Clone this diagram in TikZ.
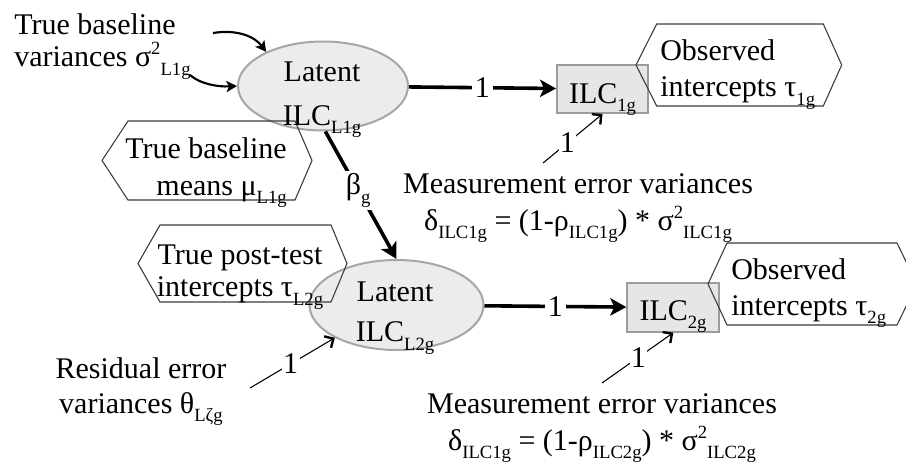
\documentclass[tikz,border=0pt]{standalone}
\usepackage{fontspec}
\setmainfont{Liberation Serif}
\usetikzlibrary{arrows.meta,shapes.geometric,calc}

% lowered subscript and raised superscript in text font
\newcommand\lo[1]{\raisebox{-6.5pt}{\fontsize{14}{14}\selectfont #1}}
\newcommand\hi[1]{\raisebox{9pt}{\fontsize{14}{14}\selectfont #1}}
% hexagon outline: centre x, centre y, half flat width, half height, left tip, right tip
\newcommand\hexpath[6]{\draw[hexline] (#1-#3,#2-#4) -- (#1+#3,#2-#4) -- (#1+#3+#6,#2) -- (#1+#3,#2+#4) -- (#1-#3,#2+#4) -- (#1-#3-#5,#2) -- cycle;}

\definecolor{latentfill}{HTML}{ECECEC}
\definecolor{latentedge}{HTML}{A6A6A6}
\definecolor{boxfill}{HTML}{E6E6E6}
\definecolor{boxedge}{HTML}{9C9C9C}
\definecolor{hexcol}{HTML}{3A3A3A}

\begin{document}
\begin{tikzpicture}[x=0.75pt,y=-0.75pt,
  font=\fontsize{22.5}{27}\selectfont,
  latent/.style={ellipse, draw=latentedge, fill=latentfill, line width=1.5pt, inner sep=0pt},
  obsbox/.style={rectangle, draw=boxedge, fill=boxfill, line width=1.5pt, inner sep=0pt},
  txt/.style={inner sep=0pt, align=center},
  hexline/.style={draw=hexcol, line width=0.8pt, line join=miter},
  pathar/.style={line width=2.7pt, -{Stealth[length=12pt,width=13pt,inset=3pt]}},
  curvear/.style={line width=1.6pt, -{Stealth[length=8pt,width=8.5pt,inset=2pt]}},
  errar/.style={line width=0.8pt, -{Straight Barb[length=5pt,width=10pt,line width=1.8pt]}},
  one/.style={fill=white, inner sep=2pt}]

\useasboundingbox (0,0) rectangle (906,464);

% latent variables and observed indicators
\node[latent, minimum width=127.5pt, minimum height=66.75pt] (e1) at (323,86) {};
\node[latent, minimum width=130.5pt, minimum height=67.5pt] (e2) at (396.5,305) {};
\node[obsbox, minimum width=68.25pt, minimum height=36pt] (b1) at (602.5,89) {};
\node[obsbox, minimum width=69pt, minimum height=36.3pt] (b2) at (673.3,307.5) {};

% parameter hexagons
\hexpath{740}{65}{83.3}{41}{20.7}{18.4}
\hexpath{211.5}{160.5}{83.5}{39.5}{26}{17}
\hexpath{245.5}{263.5}{85.5}{38.5}{22}{16}
\hexpath{812}{284}{85}{41}{19}{20}

% texts (anchored on the baseline of their last line)
\node[txt, anchor=base west, align=left, font=\fontsize{22.5}{23.8}\selectfont] (tbv) at (14,66.7)
  {True baseline\\variances σ\hi{2}\lo{L1g}};
\node[txt, anchor=base, font=\fontsize{22.5}{32.5}\selectfont] (e1t) at (322,125)
  {Latent\\ILC\lo{L1g}};
\node[txt, anchor=base] (b1t) at (602.5,103) {ILC\lo{1g}};
\node[txt, anchor=base west, align=left] (obs1) at (660,96.7)
  {Observed\\intercepts τ\lo{1g}};
\node[txt, anchor=base, font=\fontsize{22.5}{27.5}\selectfont] (mev1) at (578,230)
  {Measurement error variances\\δ\lo{ILC1g} = (1-ρ\lo{ILC1g}) * σ\hi{2}\lo{ILC1g}};
\node[txt, anchor=base east, align=right, font=\fontsize{22.5}{27.5}\selectfont] (tbm) at (287,195)
  {True baseline\\means μ\lo{L1g}};
\node[txt, anchor=base, font=\fontsize{22.5}{23.8}\selectfont] (tpi) at (240,296.7)
  {True post-test\\intercepts τ\lo{L2g}};
\node[txt, anchor=base, font=\fontsize{22.5}{30}\selectfont] (e2t) at (395,341.7)
  {Latent\\ILC\lo{L2g}};
\node[txt, anchor=base] (b2t) at (673,320) {ILC\lo{2g}};
\node[txt, anchor=base west, align=left] (obs2) at (731,315)
  {Observed\\intercepts τ\lo{2g}};
\node[txt, anchor=base, font=\fontsize{22.5}{27.5}\selectfont] (mev2) at (602,450)
  {Measurement error variances\\δ\lo{ILC1g} = (1-ρ\lo{ILC2g}) * σ\hi{2}\lo{ILC2g}};
\node[txt, anchor=base, font=\fontsize{22.5}{26.25}\selectfont] (rev) at (141,413.3)
  {Residual error\\variances θ\lo{Lζg}};

% structural paths
\draw[pathar] (e1) -- node[one]{1} (b1);
\draw[pathar] (e2) -- node[one]{1} (b2);
\draw[pathar] (e1.-87) -- node[one, pos=0.46]{β\lo{g}} (e2.north);

% variance arrows into the baseline latent
\coordinate (v1) at (213,33);
\coordinate (v2) at (190,75);
\draw[curvear] (v1) .. controls (238,29) and (255,37) .. (e1.149);
\draw[curvear] (v2) .. controls (200,84) and (218,87) .. (e1.west);

% error arrows
\coordinate (m1) at (543,163);
\coordinate (m2) at (602,383);
\coordinate (r1) at (250,388);
\draw[errar] (m1) -- node[one, inner sep=1pt, pos=0.41]{1} (b1.south);
\draw[errar] (m2) -- node[one, inner sep=1pt, pos=0.51]{1} (b2.south);
\draw[errar] (r1) -- node[one, inner sep=1pt, pos=0.48]{1} (e2.208);

\end{tikzpicture}
\end{document}
